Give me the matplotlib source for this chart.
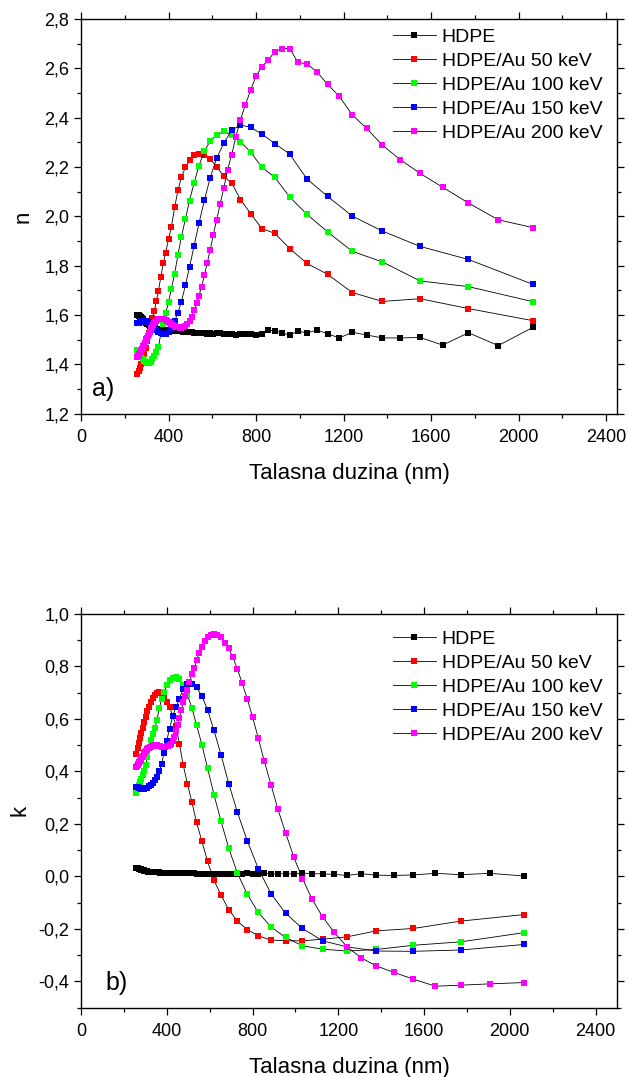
import matplotlib
matplotlib.use("Agg")
import matplotlib.pyplot as plt
from matplotlib.ticker import MultipleLocator, FuncFormatter

plt.rcParams['font.family'] = ['Liberation Sans', 'DejaVu Sans']

# talasne duzine (nm): gusta mreza (korak 0.05 eV) i retka (korak 0.1 eV)
wl_fine = [258, 261, 264, 267, 270, 272, 276, 279, 282, 285, 288, 292, 295, 299, 302,
           306, 310, 314, 318, 322, 326, 331, 335, 340, 344, 349, 354, 359, 365, 370,
           376, 381, 387, 394, 400, 407, 413, 420, 428, 435, 443, 451, 459, 468, 477,
           486, 496, 506, 517, 528, 539, 551, 564, 577, 590, 605, 620, 636, 653, 670,
           689, 708, 729, 751, 775, 800, 827, 855, 886, 918, 954, 992, 1033, 1078, 1127,
           1181, 1240, 1305, 1378, 1459, 1550, 1653, 1771, 1907, 2066]
wl_coarse = [258, 264, 270, 276, 282, 288, 295, 302, 310, 318, 326, 335, 344, 354, 365,
             376, 387, 400, 413, 428, 443, 459, 477, 496, 517, 539, 564, 590, 620, 653,
             689, 729, 775, 827, 886, 954, 1033, 1127, 1240, 1378, 1550, 1771, 2066]

labels = ["HDPE", "HDPE/Au 50 keV", "HDPE/Au 100 keV", "HDPE/Au 150 keV", "HDPE/Au 200 keV"]
colors = ["#000000", "#ff0000", "#00ff00", "#0000ff", "#ff00ff"]

# a) indeks prelamanja n
n_hdpe = [1.600, 1.599, 1.598, 1.596, 1.594, 1.592, 1.589, 1.586, 1.583, 1.580, 1.577, 1.574,
          1.571, 1.568, 1.565, 1.562, 1.559, 1.556, 1.554, 1.552, 1.550, 1.548, 1.547, 1.546,
          1.545, 1.544, 1.543, 1.542, 1.541, 1.541, 1.540, 1.540, 1.539, 1.539, 1.538, 1.538,
          1.537, 1.537, 1.536, 1.536, 1.535, 1.534, 1.534, 1.533, 1.532, 1.531, 1.530, 1.530,
          1.529, 1.527, 1.526, 1.527, 1.525, 1.522, 1.527, 1.524, 1.526, 1.529, 1.521, 1.522,
          1.523, 1.520, 1.522, 1.521, 1.523, 1.520, 1.524, 1.539, 1.535, 1.528, 1.518, 1.535,
          1.527, 1.539, 1.524, 1.507, 1.530, 1.519, 1.507, 1.507, 1.509, 1.478, 1.528, 1.476,
          1.550]
n_50 = [1.362, 1.372, 1.386, 1.403, 1.422, 1.443, 1.468, 1.495, 1.525, 1.555, 1.586, 1.615,
        1.655, 1.698, 1.755, 1.810, 1.853, 1.907, 1.957, 2.036, 2.105, 2.159, 2.198, 2.227,
        2.247, 2.254, 2.250, 2.233, 2.201, 2.162, 2.135, 2.068, 2.011, 1.950, 1.931, 1.869,
        1.809, 1.765, 1.691, 1.655, 1.666, 1.626, 1.577]
n_100 = [1.458, 1.448, 1.438, 1.428, 1.420, 1.413, 1.408, 1.405, 1.405, 1.409, 1.420, 1.433,
         1.448, 1.470, 1.526, 1.562, 1.607, 1.652, 1.706, 1.768, 1.843, 1.917, 1.988, 2.064,
         2.136, 2.205, 2.264, 2.305, 2.329, 2.344, 2.329, 2.302, 2.261, 2.198, 2.158, 2.078,
         2.008, 1.937, 1.858, 1.815, 1.738, 1.715, 1.654]
n_150 = [1.566, 1.568, 1.572, 1.575, 1.577, 1.577, 1.576, 1.574, 1.571, 1.566, 1.558, 1.549,
         1.540, 1.532, 1.526, 1.523, 1.524, 1.530, 1.545, 1.575, 1.610, 1.654, 1.720, 1.794,
         1.880, 1.971, 2.065, 2.155, 2.236, 2.297, 2.349, 2.370, 2.361, 2.333, 2.295, 2.252,
         2.151, 2.081, 2.001, 1.940, 1.878, 1.825, 1.724]
n_200 = [1.430, 1.432, 1.435, 1.440, 1.445, 1.450, 1.456, 1.462, 1.468, 1.474, 1.480, 1.487,
         1.494, 1.501, 1.508, 1.515, 1.523, 1.531, 1.538, 1.546, 1.553, 1.560, 1.566, 1.571,
         1.576, 1.579, 1.582, 1.584, 1.585, 1.585, 1.584, 1.582, 1.579, 1.575, 1.570, 1.566,
         1.562, 1.558, 1.555, 1.552, 1.550, 1.549, 1.549, 1.551, 1.555, 1.562, 1.574, 1.593,
         1.620, 1.647, 1.678, 1.715, 1.761, 1.811, 1.862, 1.926, 1.986, 2.050, 2.116, 2.189,
         2.250, 2.323, 2.392, 2.451, 2.511, 2.568, 2.607, 2.632, 2.668, 2.680, 2.680, 2.624,
         2.618, 2.586, 2.535, 2.486, 2.411, 2.357, 2.288, 2.230, 2.174, 2.118, 2.054, 1.986,
         1.954]

# b) koeficijent ekstinkcije k
k_hdpe = [0.034, 0.033, 0.032, 0.031, 0.030, 0.029, 0.028, 0.027, 0.026, 0.025, 0.024, 0.023,
          0.022, 0.022, 0.021, 0.020, 0.020, 0.019, 0.019, 0.018, 0.018, 0.018, 0.017, 0.017,
          0.017, 0.016, 0.016, 0.016, 0.016, 0.015, 0.015, 0.015, 0.015, 0.015, 0.014, 0.014,
          0.014, 0.014, 0.014, 0.013, 0.013, 0.013, 0.013, 0.013, 0.013, 0.012, 0.012, 0.012,
          0.012, 0.012, 0.011, 0.011, 0.011, 0.010, 0.010, 0.011, 0.010, 0.010, 0.011, 0.009,
          0.011, 0.010, 0.011, 0.010, 0.012, 0.011, 0.010, 0.012, 0.010, 0.010, 0.011, 0.009,
          0.013, 0.011, 0.010, 0.008, 0.004, 0.011, 0.005, 0.004, 0.006, 0.012, 0.007, 0.012,
          0.002]
k_50 = [0.465, 0.488, 0.507, 0.526, 0.545, 0.567, 0.589, 0.609, 0.629, 0.647, 0.666, 0.681,
        0.692, 0.700, 0.704, 0.697, 0.682, 0.665, 0.645, 0.612, 0.575, 0.505, 0.424, 0.354,
        0.284, 0.206, 0.134, 0.058, -0.014, -0.071, -0.126, -0.170, -0.202, -0.226, -0.242,
        -0.245, -0.245, -0.239, -0.230, -0.207, -0.198, -0.170, -0.145]
k_100 = [0.319, 0.333, 0.347, 0.360, 0.372, 0.385, 0.403, 0.425, 0.455, 0.488, 0.520, 0.544,
         0.566, 0.595, 0.640, 0.676, 0.702, 0.728, 0.748, 0.758, 0.759, 0.751, 0.728, 0.693,
         0.643, 0.577, 0.502, 0.414, 0.312, 0.211, 0.108, 0.014, -0.067, -0.137, -0.192,
         -0.232, -0.264, -0.277, -0.284, -0.278, -0.262, -0.249, -0.214]
k_150 = [0.342, 0.340, 0.338, 0.336, 0.335, 0.335, 0.335, 0.336, 0.339, 0.344, 0.350, 0.357,
         0.366, 0.378, 0.400, 0.428, 0.472, 0.518, 0.563, 0.611, 0.645, 0.677, 0.715, 0.734,
         0.735, 0.721, 0.687, 0.636, 0.557, 0.464, 0.354, 0.246, 0.137, 0.030, -0.065, -0.140,
         -0.198, -0.245, -0.268, -0.284, -0.285, -0.280, -0.259]
k_200 = [0.417, 0.420, 0.423, 0.427, 0.431, 0.435, 0.440, 0.445, 0.450, 0.455, 0.460, 0.465,
         0.469, 0.473, 0.477, 0.481, 0.485, 0.488, 0.491, 0.493, 0.495, 0.497, 0.499, 0.500,
         0.501, 0.501, 0.500, 0.499, 0.497, 0.496, 0.495, 0.494, 0.494, 0.495, 0.497, 0.499,
         0.502, 0.506, 0.516, 0.530, 0.553, 0.576, 0.605, 0.634, 0.663, 0.686, 0.711, 0.740,
         0.770, 0.794, 0.825, 0.851, 0.873, 0.896, 0.911, 0.921, 0.925, 0.921, 0.911, 0.891,
         0.869, 0.836, 0.792, 0.738, 0.678, 0.608, 0.527, 0.439, 0.350, 0.257, 0.167, 0.075,
         -0.008, -0.087, -0.154, -0.213, -0.267, -0.309, -0.341, -0.365, -0.391, -0.418,
         -0.414, -0.409, -0.404]


def comma_fmt(v, pos):
    if abs(v) < 1e-9:
        v = 0.0
    return f"{v:.1f}".replace(".", ",")


def style_axes(ax, xmax, ylim, ymajor):
    ax.set_xlim(0, xmax)
    ax.set_ylim(*ylim)
    ax.xaxis.set_major_locator(MultipleLocator(400))
    ax.xaxis.set_minor_locator(MultipleLocator(200))
    ax.yaxis.set_major_locator(MultipleLocator(ymajor))
    ax.yaxis.set_minor_locator(MultipleLocator(ymajor / 2))
    ax.yaxis.set_major_formatter(FuncFormatter(comma_fmt))
    ax.tick_params(which="both", direction="out", top=True, right=True,
                   labelsize=13, width=0.9)
    ax.tick_params(which="major", length=5)
    ax.tick_params(which="minor", length=3)
    ax.tick_params(axis="x", which="major", pad=6)
    for s in ax.spines.values():
        s.set_linewidth(1.0)
    ax.set_xlabel("Talasna duzina (nm)", fontsize=16, labelpad=12)


def plot_series(ax, xs, ys):
    for x, y, c, lab in zip(xs, ys, colors, labels):
        ax.plot(x, y, color="black", lw=0.6, marker="s", ms=3.8,
                mfc=c, mec=c, mew=0, label=lab)


def add_legend(ax, top):
    ax.legend(loc="upper left", bbox_to_anchor=(393 / 629, top), bbox_transform=fig.transFigure,
              frameon=False, fontsize=14, handlelength=2.2, handletextpad=0.3,
              labelspacing=0.33, borderpad=0, borderaxespad=0, numpoints=1)


fig = plt.figure(figsize=(6.29, 10.77), dpi=100)
ax1 = fig.add_axes([0.1288, 0.6159, 0.8521, 0.3665])
ax2 = fig.add_axes([0.1288, 0.0643, 0.8521, 0.3656])

plot_series(ax1, [wl_fine, wl_coarse, wl_coarse, wl_coarse, wl_fine],
            [n_hdpe, n_50, n_100, n_150, n_200])
style_axes(ax1, 2450, (1.2, 2.8), 0.2)
ax1.set_ylabel("n", fontsize=16, labelpad=8)
ax1.text(0.02, 0.045, "a)", transform=ax1.transAxes, fontsize=18)
add_legend(ax1, 0.974)

plot_series(ax2, [wl_fine, wl_coarse, wl_coarse, wl_coarse, wl_fine],
            [k_hdpe, k_50, k_100, k_150, k_200])
style_axes(ax2, 2500, (-0.5, 1.0), 0.2)
ax2.set_ylabel("k", fontsize=16, labelpad=6)
ax2.text(0.045, 0.045, "b)", transform=ax2.transAxes, fontsize=18)
add_legend(ax2, 0.415)

fig.savefig("out.png", dpi=100)
